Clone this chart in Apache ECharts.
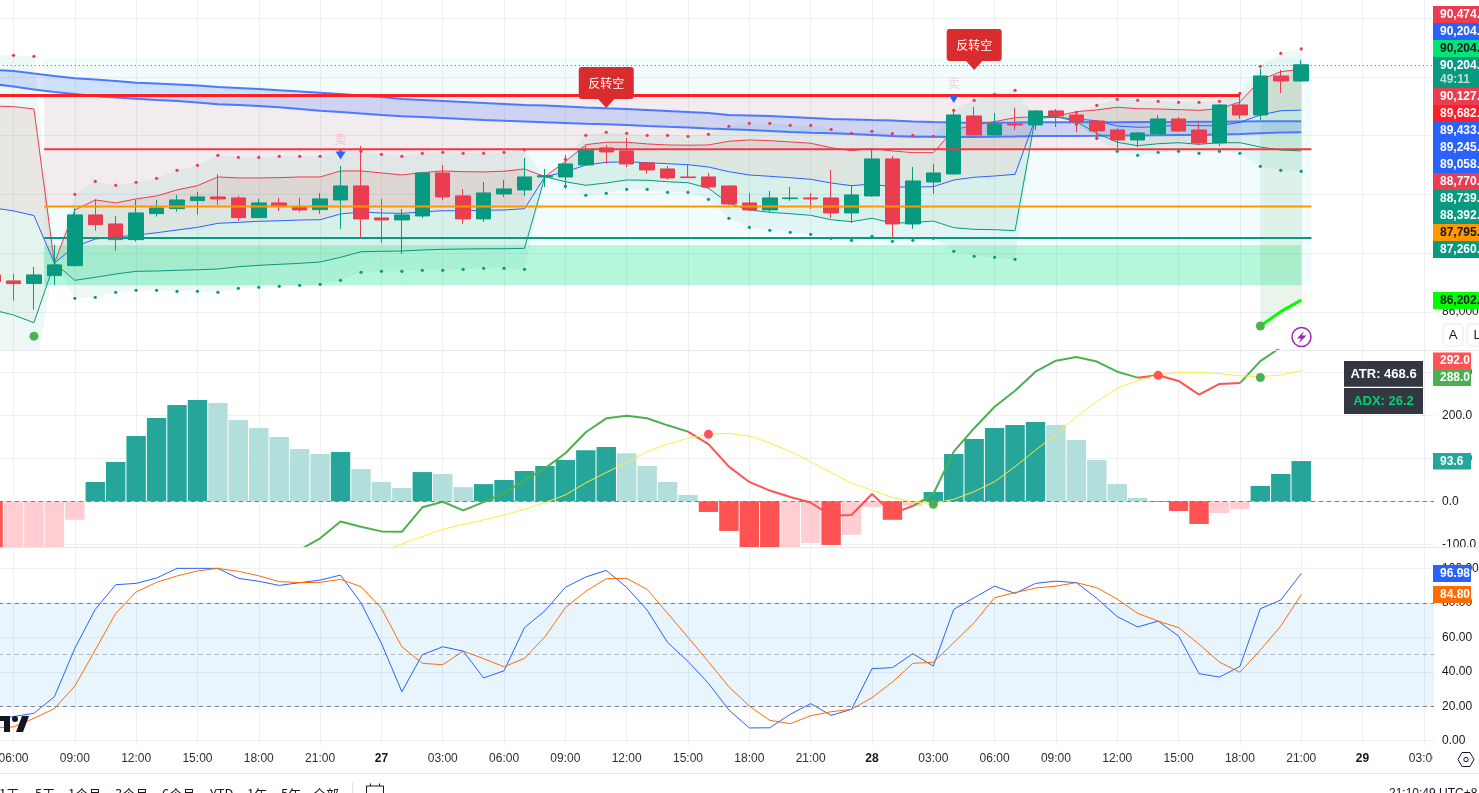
<!DOCTYPE html>
<html><head><meta charset="utf-8">
<style>html,body{margin:0;padding:0;background:#fff;overflow:hidden}#c{width:1479px;height:793px}</style>
<script src="https://cdn.jsdelivr.net/npm/echarts@6/dist/echarts.min.js"></script>
</head><body><div id="c"></div>
<script>
// ---------- categories (hourly) ----------
const categories = ['05:00','06:00','07:00','08:00','09:00','10:00','11:00','12:00','13:00','14:00','15:00','16:00','17:00','18:00','19:00','20:00','21:00','22:00','23:00',
 '27','01:00','02:00','03:00','04:00','05:00','06:00','07:00','08:00','09:00','10:00','11:00','12:00','13:00','14:00','15:00','16:00','17:00','18:00','19:00','20:00','21:00','22:00','23:00',
 '28','01:00','02:00','03:00','04:00','05:00','06:00','07:00','08:00','09:00','10:00','11:00','12:00','13:00','14:00','15:00','16:00','17:00','18:00','19:00','20:00','21:00','22:00','23:00',
 '29','01:00','02:00','03:00'];
const dayLabels = ['27','28','29'];
// ---------- candles [open, close, low, high] ----------
const candles = [[86631,86517,86206,86750],[86529,86483,86194,86648],[86483,86631,86041,86767],[86619,86801,86461,87141],[86789,87651,86772,87765],[87651,87486,87384,87918],[87498,87231,87044,87634],[87231,87685,87197,87906],[87673,87770,87622,87906],[87758,87906,87707,87991],[87894,87957,87656,88042],[87957,87923,87821,88343],[87940,87605,87549,87974],[87605,87855,87605,87923],[87855,87809,87719,87940],[87792,87736,87702,87940],[87741,87923,87668,88025],[87906,88144,87413,88484],[88144,87583,87277,88824],[87600,87566,87175,87923],[87566,87651,86988,87753],[87634,88365,87600,88382],[88365,87957,87906,88501],[87974,87583,87498,88093],[87583,88025,87532,88212],[88008,88093,87957,88246],[88076,88297,87974,88620],[88297,88319,88127,88433],[88297,88518,88093,88671],[88501,88756,88501,88824],[88790,88722,88518,88841],[88739,88518,88467,88960],[88535,88416,88348,88552],[88433,88280,88246,88484],[88297,88285,88280,88518],[88297,88127,88093,88365],[88144,87838,87821,88144],[87855,87736,87719,88025],[87736,87940,87702,88059],[87928,87940,87889,88127],[87940,87923,87753,88025],[87940,87685,87600,88416],[87685,87991,87515,88161],[87974,88603,87957,88756],[88603,87498,87277,88654],[87498,88229,87413,88467],[88212,88365,88008,88518],[88348,89351,88331,89453],[89334,89011,88960,89487],[89011,89198,88994,89385],[89198,89181,89096,89470],[89181,89419,89096,89436],[89419,89334,89147,89453],[89351,89232,89062,89419],[89249,89079,88926,89266],[89096,88926,88790,89130],[88926,89045,88807,89062],[89028,89283,89028,89351],[89283,89079,89062,89317],[89096,88875,88841,89215],[88875,89521,88824,89538],[89521,89351,89283,89742],[89351,90014,89266,90133],[90014,89929,89725,90116],[89929,90204,89912,90286]];
// ---------- channel lines ----------
const upLine = [89504,89492,89453,86835,87736,87906,87855,87923,87974,88076,88149,88297,88280,88280,88285,88297,88297,88399,88399,88365,88331,88370,88399,88387,88382,88394,88433,88302,88557,88846,88887,88887,88858,88841,88836,88841,88904,88926,88914,88892,88870,88795,88744,88778,88739,88710,88710,89096,89181,89237,89305,89322,89329,89407,89436,89482,89458,89453,89441,89430,89458,89572,89946,90087,90127];
const midLine = [87771,87720,87640,86835,87110,87241,87275,87309,87348,87394,87440,87508,87525,87542,87552,87564,87570,87667,87701,87683,87678,87701,87723,87723,87730,87735,87757,88301,88381,88500,88546,88556,88539,88522,88505,88466,88386,88330,88308,88284,88257,88194,88148,88177,88126,88126,88131,88245,88291,88313,88342,89294,89311,89282,89253,89163,89141,89151,89180,89168,89168,89226,89350,89423,89433];
const loLine = [86034,85949,85818,86835,86539,86590,86646,86692,86697,86709,86719,86731,86770,86794,86811,86828,86850,86930,87025,87032,87037,87054,87066,87071,87076,87076,87083,88301,88216,88155,88194,88245,88240,88216,88199,88104,87848,87735,87695,87672,87644,87570,87536,87594,87513,87519,87547,87434,87406,87400,87383,89321,89328,89236,89039,88886,88828,88862,88879,88852,88879,88879,88806,88755,88739];
const upDots = [90379,90366,90349,null,88002,88223,88155,88206,88274,88410,88495,88665,88631,88631,88648,88648,88648,88750,88733,88682,88648,88699,88716,88699,88699,88716,88760,null,88597,89005,89056,89039,89005,89005,88988,89022,89158,89209,89209,89175,89175,89107,89039,89073,89032,89005,88988,89430,89600,89702,89770,null,null,89396,89515,89617,89600,89583,89566,89566,89583,89719,90178,90400,90474];
const loDots = [85098,84979,84860,null,86233,86250,86335,86369,86369,86352,86352,86335,86403,86420,86437,86454,86471,86539,86675,86692,86692,86709,86709,86726,86743,86743,86726,null,88138,87984,88018,88086,88086,88035,88035,87917,87593,87440,87389,87355,87321,87253,87219,87287,87202,87219,87253,87032,86947,86930,86896,null,null,89192,88954,88733,88665,88716,88733,88699,88733,88699,88478,88410,88392];
const ribbonHi = [90116,90099,90056,90014,89974,89954,89928,89900,89886,89869,89852,89826,89809,89792,89770,89750,89729,89707,89682,89656,89622,89605,89588,89571,89554,89537,89520,89512,89495,89478,89464,89452,89435,89418,89401,89384,89350,89342,89333,89316,89299,89282,89274,89265,89257,89240,89231,89223,89219,89219,89221,89226,89226,89228,89228,89229,89231,89231,89233,89235,89236,89240,89242,89244,89245];
const ribbonLo = [89877,89835,89784,89741,89707,89673,89648,89627,89605,89588,89563,89532,89520,89503,89481,89452,89423,89401,89376,89350,89328,89316,89299,89282,89265,89253,89240,89226,89214,89202,89192,89180,89163,89150,89138,89121,89107,89095,89078,89061,89049,89039,89027,89010,88993,88981,88979,88976,88976,88979,88985,88993,88993,88993,88996,89000,89002,89005,89010,89010,89017,89027,89041,89052,89058];
// ---------- lime trend, last bars ----------
const trendIdx = [62,63,64];
const trendVal = [85762,86007,86202];
const closeTail = [90014,89929,90204];
// ---------- price levels & zones ----------
const levelPrices = [89682,88770,87795,87260];
const lastPrice = 90204;
const zoneRows = [
 {from:2,to:64,hi:90314,lo:86460},   // cyan
 {from:2,to:61,hi:89682,lo:88770},   // pink
 {from:2,to:26,hi:88770,lo:87795},   // pink (lower, left part)
 {from:2,to:64,hi:87137,lo:86456}    // green
];
// ---------- markers ----------
const reversalIdx = [30,48];
const reversalPrice = [89470,90116];
const reversalText = '反转空';
const sellIdx = [17,47];
const sellPrice = [88661,89622];
const bigDot = [[2,85589],[62,85762]];
// ---------- MACD ----------
const macdHist = [-150,-140,-130,-110,-43,45,91.5,152,194,224,235.7,228.7,189,170.5,149.6,121.7,110,114.7,75,45,31,68,63.6,33,40,49.6,70.5,82,96,119,126,112,82,45,14.7,-24.8,-69,-107,-120,-110,-97,-101.5,-78,-13,-43,-11,21.7,110,145,170.5,177.5,184.5,177.5,142.6,96,40,7.8,-1.5,-22.5,-52.7,-27,-17.8,35.7,63.6,93.6];
const macdLine = [null,null,null,null,null,null,null,null,null,null,null,null,null,-170,-140,-113,-86,-47,-59,-70,-71,-14,-1,-21,-2,18.6,49.6,76.7,111.6,160.5,193,199,193,176.7,162,133,80.6,45,25,10,-3,-33,-32,17,-28,-11,17,115.5,170,220,257,301.5,327,335.6,325,301.5,287.6,293,280,248,273,275,326,358,385];
const macdSignal = [null,null,null,null,null,null,null,null,null,null,null,null,null,null,null,null,null,null,-140,-118,-99,-82,-65,-54,-43,-32,-18.6,-3,14.7,43,67,90,115.5,133,146.5,156,158,152,136,116,92,67,42,26,9,-1.5,-4.6,4.6,22.5,45.7,80.6,119,156,197,232,263,280.6,293.8,300,300,297,292,290,293.8,304];
const macdRedSpans = [[34,45],[56,61]];
const macdDotsRed = [[35,155.8],[57,293]];
const macdDotsGreen = [[46,-7],[62,288]];
// ---------- Stochastic ----------
const stochK = [12,14,15.9,25.5,53.6,76.2,90.5,91.3,94.4,100,100,100,94.2,92.5,90.1,91.7,93.2,96.1,80,56.5,28.4,49.9,54.5,52,36.4,40.6,65.6,75.4,89,95,98.8,89,75.8,57,46,33.3,17.8,7.4,7.5,15.3,21.5,14.7,18.2,41.8,42.4,50.5,43.3,76.2,83,89.7,85.5,91.3,92.6,91.7,82.6,72,66,69.4,60.7,38.9,36.9,43.1,76.6,81.6,96.98];
const stochD = [7.5,8,13,18.6,31.7,52.6,73.9,86.3,91.9,95.6,98.5,100,98.3,95.7,92.3,91.7,91.9,93.6,89.4,76.8,54.5,44.9,44.1,52,47.6,42.9,47.8,60.3,77.2,86.7,94,94.2,87.8,73.9,60,45.8,31.3,20.1,11.8,9.9,14.5,16.8,18.2,25,34,44.9,45.5,56.9,68.5,83,85.9,88.6,89.7,91.7,88.8,82.2,73.9,69.4,65.6,56,45.6,39.7,52.6,66.5,84.8];
// ---------- axis ticks ----------
const priceTicks = [86000,87000,88000,89000,90000,91000];
const macdTicks = [-100,0,100,200,300];
const stochTicks = [0,20,40,60,80,100];
const stochLevels = [20,50,80];
// ---------- tag stack ----------
const priceTags = [['90,474.00','#ea3d50','#fff'],['90,204.00','#2962ff','#fff'],['90,204.00','#00e676','#131722'],['90,204.00','#089981','#fff'],['90,127.00','#ea3d50','#fff'],['89,682.00','#ff1e26','#fff'],['89,433.00','#2962ff','#fff'],['89,245.00','#2962ff','#fff'],['89,058.00','#2962ff','#fff'],['88,770.00','#ea3d50','#fff'],['88,739.00','#089981','#fff'],['88,392.00','#089981','#fff'],['87,795.00','#ff9800','#131722'],['87,260.00','#089981','#fff']];
const rangeButtons = [['1天',-1],['5天',35],['1个月',68],['3个月',115],['6个月',162],['YTD',210],['1年',247],['5年',281],['全部',313]];

const FONT = '"Liberation Sans",Arial,sans-serif';
const CJK = '"Noto Sans CJK SC","Liberation Sans",sans-serif';
const TAG = 'bold 12px '+FONT;
const GRID = '#eef0f3', UP = '#089981', DOWN = '#ea3d50';
const every3 = (i) => (i - 1) % 3 === 0;
const lastIdx = candles.length - 1;

function indexes(a){return a.map((v,i)=>[i,v]);}

function bandSeries(hi, lo, color, from, to, z){
  return {type:'custom',xAxisIndex:0,yAxisIndex:0,z,clip:true,silent:true,data:[[from,hi[from]]],
    renderItem(p,api){
      const pts=[];
      for(let i=from;i<=to;i++)pts.push(api.coord([i,hi[i]]));
      for(let i=to;i>=from;i--)pts.push(api.coord([i,lo[i]]));
      return {type:'polygon',shape:{points:pts},style:{fill:color}};
    }};
}
function zoneSeries(zones,colors,offsets,z){
  return {type:'custom',xAxisIndex:0,yAxisIndex:0,z,clip:true,silent:true,data:zones.map(r=>[r.from,r.hi]),
    renderItem(p,api){
      const r=zones[p.dataIndex],b=api.size([1,0])[0];
      const a=api.coord([r.from,r.hi]),c=api.coord([r.to,r.lo]);
      const o=offsets[p.dataIndex];
      const x0=a[0]+b/2,x1=c[0]+o*b;
      return {type:'rect',shape:{x:x0,y:a[1],width:x1-x0,height:c[1]-a[1]},style:{fill:colors[p.dataIndex]}};
    }};
}
function levelSeries(price,from,fromOff,to,toOff,color,width,z){
  return {type:'custom',xAxisIndex:0,yAxisIndex:0,z,clip:true,silent:true,data:[[from,price]],
    renderItem(p,api){
      const b=api.size([1,0])[0];
      const a=api.coord([from,price]),c=api.coord([to,price]);
      return {type:'rect',shape:{x:a[0]+fromOff*b,y:a[1]-width/2,width:c[0]+toOff*b-a[0]-fromOff*b,height:width},style:{fill:color}};
    }};
}
function lineS(vals,color,width,xi,yi,z){
  return {type:'line',xAxisIndex:xi,yAxisIndex:yi,data:vals,showSymbol:false,symbol:'none',z,silent:true,connectNulls:false,
    lineStyle:{color,width},itemStyle:{color}};
}
function dotS(vals,color,size,xi,yi,z){
  return {type:'scatter',xAxisIndex:xi,yAxisIndex:yi,data:vals,symbolSize:size,z,silent:true,itemStyle:{color,opacity:1}};
}
const inRed = i => macdRedSpans.some(([a,b])=>i>=a&&i<=b);
const macdRed = macdLine.map((v,i)=>inRed(i)?v:null);
const macdGreen = macdLine.map((v,i)=>{
  const edge = macdRedSpans.some(([a,b])=>i===a||i===b);
  return (!inRed(i)||edge)?v:null;
});
const upFill = upDots.map((v,i)=>v==null?upLine[i]:v);
const loFill = loDots.map((v,i)=>v==null?loLine[i]:v);
const trendHi = new Array(65).fill(null), trendLo = new Array(65).fill(null);
trendIdx.forEach((ix,k)=>{trendHi[ix]=closeTail[k];trendLo[ix]=trendVal[k];});

const series = [
  zoneSeries(zoneRows,['rgba(0,188,212,0.05)','rgba(242,54,69,0.08)','rgba(242,54,69,0.08)','rgba(0,230,118,0.25)'],[0.5,0,0,0],2),
  bandSeries(upFill,loFill,'rgba(8,153,129,0.07)',0,lastIdx,3),
  bandSeries(upLine,midLine,'rgba(190,90,60,0.10)',0,lastIdx,3),
  bandSeries(midLine,loLine,'rgba(76,175,80,0.06)',0,lastIdx,3),
  bandSeries(trendHi,trendLo,'rgba(76,175,80,0.12)',62,64,3),
  bandSeries(ribbonHi,ribbonLo,'rgba(41,98,255,0.18)',0,lastIdx,3),
  lineS(ribbonHi,'#4c79ff',2,0,0,4),
  lineS(ribbonLo,'#4c79ff',2,0,0,4),
  lineS(upLine,'#ea3d50',1,0,0,4),
  lineS(midLine,'#2962ff',1,0,0,4),
  lineS(loLine,UP,1,0,0,4),
  dotS(indexes(upDots).filter(d=>d[1]!=null),DOWN,3.2,0,0,4),
  dotS(indexes(loDots).filter(d=>d[1]!=null),UP,3.2,0,0,4),
  {type:'candlestick',xAxisIndex:0,yAxisIndex:0,data:candles,barWidth:15,z:5,silent:true,
   itemStyle:{color:UP,color0:DOWN,borderColor:UP,borderColor0:DOWN,borderWidth:1},
   markLine:{silent:true,symbol:'none',label:{show:false},animation:false,data:[{yAxis:lastPrice}],lineStyle:{color:UP,type:[1,3],width:1.2}}},
  levelSeries(levelPrices[0],0,0,61,0,'#ff1e26',3,6),
  levelSeries(levelPrices[1],2,0.5,64,0.5,'#f23645',2,6),
  levelSeries(levelPrices[2],2,0.5,64,0.5,'#ff9800',2,6),
  levelSeries(levelPrices[3],2,0.5,64,0.5,UP,2,6),
  lineS(trendIdx.reduce((a,ix,k)=>{a[ix]=trendVal[k];return a;},new Array(65).fill(null)),'#00ff00',3,0,0,6),
  dotS(bigDot,'#4caf50',9,0,0,7),
  {type:'scatter',xAxisIndex:0,yAxisIndex:0,z:7,silent:true,symbol:'triangle',symbolRotate:180,symbolSize:[10,8],
   data:sellIdx.map((ix,k)=>[ix,sellPrice[k]]),itemStyle:{color:'#2962ff',opacity:1},
   label:{show:true,position:'top',distance:6,formatter:'卖',color:'rgba(242,54,69,0.22)',fontSize:12,fontFamily:CJK}},
  {type:'custom',xAxisIndex:0,yAxisIndex:0,z:8,silent:true,data:reversalIdx.map((ix,k)=>[ix,reversalPrice[k]]),
   renderItem(p,api){
     const c=api.coord([api.value(0),api.value(1)]);
     const w=55,h=32,tip=9,top=c[1]-tip-h,left=c[0]-w/2;
     return {type:'group',children:[
       {type:'rect',shape:{x:left,y:top,width:w,height:h,r:3},style:{fill:'#d92c2c'}},
       {type:'polygon',shape:{points:[[c[0]-9,top+h-1],[c[0]+9,top+h-1],[c[0],c[1]]]},style:{fill:'#d92c2c'}},
       {type:'text',style:{text:reversalText,x:c[0],y:top+h/2,fill:'#fff',font:'12px '+CJK,align:'center',verticalAlign:'middle'}}
     ]};
   }},
  // MACD pane
  {type:'bar',xAxisIndex:1,yAxisIndex:1,data:macdHist,barWidth:'95%',z:2,silent:true,
   itemStyle:{color:(p)=>{
     const i=p.dataIndex,v=macdHist[i],pv=i?macdHist[i-1]:(v+1);
     return v>=0?(v>pv?'#26a69a':'#b2dfdb'):(v<pv?'#ff5252':'#ffcdd2');
   }},
   markLine:{silent:true,symbol:'none',label:{show:false},animation:false,data:[{yAxis:0}],lineStyle:{color:'#787b86',type:[4,4],width:1}}},
  lineS(macdGreen,'#4caf50',2,1,1,3),
  lineS(macdRed,'#ff5252',2,1,1,3),
  lineS(macdSignal,'#ffeb3b',1,1,1,3),
  dotS(macdDotsRed,'#ff5252',9,1,1,4),
  dotS(macdDotsGreen,'#4caf50',9,1,1,4),
  // Stochastic pane
  {type:'line',xAxisIndex:2,yAxisIndex:2,data:stochK,showSymbol:false,symbol:'none',z:3,silent:true,lineStyle:{color:'#2962ff',width:1},
   markArea:{silent:true,animation:false,data:[[{yAxis:stochLevels[0]},{yAxis:stochLevels[2]}]],itemStyle:{color:'rgba(33,150,243,0.1)'}},
   markLine:{silent:true,symbol:'none',label:{show:false},animation:false,
     data:[{yAxis:stochLevels[0],lineStyle:{color:'#787b86'}},{yAxis:stochLevels[1],lineStyle:{color:'rgba(120,123,134,0.55)'}},{yAxis:stochLevels[2],lineStyle:{color:'#787b86'}}],
     lineStyle:{type:[4,4],width:1}}},
  {type:'line',xAxisIndex:2,yAxisIndex:2,data:stochD,showSymbol:false,symbol:'none',z:3,silent:true,lineStyle:{color:'#ff6d00',width:1}}
];

function xAx(gi,show){
  return {type:'category',gridIndex:gi,data:categories,boundaryGap:true,
    axisLine:{show:false},axisTick:{show:false},
    splitLine:{show:true,interval:every3,alignWithLabel:true,lineStyle:{color:GRID,width:1}},
    axisLabel:show?{show:true,interval:every3,margin:8,fontSize:12,fontFamily:FONT,color:'#2a2e39',
      formatter:(v)=>dayLabels.includes(v)?'{d|'+v+'}':v,
      rich:{d:{fontWeight:'bold',fontSize:12,fontFamily:FONT,color:'#131722'}}}:{show:false}};
}
function yAx(gi,min,max,ticks,fmt){
  return {type:'value',gridIndex:gi,position:'right',min,max,
    axisLine:{show:false},
    axisTick:{show:false,customValues:ticks},
    splitLine:{show:true,lineStyle:{color:GRID,width:1}},
    axisLabel:{show:true,customValues:ticks,margin:8,fontSize:12,fontFamily:FONT,color:'#131722',formatter:fmt}};
}

// ---- chrome ----
const graphics=[];
const rect=(x,y,w,h,fill,extra)=>graphics.push(Object.assign({type:'rect',z:100,silent:true,shape:{x,y,width:w,height:h},style:{fill}},extra||{}));
const text=(t,x,y,fill,font,align)=>graphics.push({type:'text',z:101,silent:true,style:{text:t,x,y,fill,font,align:align||'left',verticalAlign:'middle'}});
// pane separators and covers
rect(0,350,1479,1,'#e6e8ee');
rect(1433,547.5,46,6,'#fff');
rect(0,547,1479,1,'#e6e8ee');
rect(1433,745,46,28,'#fff');
rect(0,773,1479,1,'#e6e8ee');
// price tags
let ty=6;
priceTags.forEach((t,i)=>{
  const h=(i===3)?31:17;
  rect(1433,ty,46,h,t[1]);
  text(t[0],1440,ty+8.7,t[2],TAG);
  if(i===3)text('49:11',1440,ty+22.5,'rgba(255,255,255,0.7)',TAG);
  ty+=h;
});
rect(1433,292,46,17,'#00ff00');
text('86,202.00',1440,300.7,'#131722',TAG);
// macd tags
rect(1433,352.5,38,16.5,'#ff5252');text('292.0',1440,361,'#fff',TAG);
rect(1433,369,38,17,'#4caf50');text('288.0',1440,377.7,'#fff',TAG);
rect(1433,453,38,16.5,'#26a69a');text('93.6',1440,461.5,'#fff',TAG);
// stoch tags
rect(1433,565,38,17,'#2962ff');text('96.98',1440,573.7,'#fff',TAG);
rect(1433,586,38,17,'#ff6d00');text('84.80',1440,594.7,'#fff',TAG);
// ATR / ADX
rect(1344,361,79,25.7,'#333742');text('ATR: 468.6',1383.5,374,'#fff','bold 13px '+FONT,'center');
rect(1344,388,79,26,'#333742');text('ADX: 26.2',1383.5,401,'#00d26a','bold 13px '+FONT,'center');
// A / L buttons
rect(1443,324,20,22,'#fff',{shape:{x:1443,y:324,width:20,height:22,r:4},style:{fill:'#fff',stroke:'#e6e8ee',lineWidth:1}});
text('A',1453,335,'#131722','13px '+FONT,'center');
rect(1467,324,20,22,'#fff',{shape:{x:1467,y:324,width:20,height:22,r:4},style:{fill:'#fff',stroke:'#e6e8ee',lineWidth:1}});
text('L',1477,335,'#131722','13px '+FONT,'center');
// lightning icon
graphics.push({type:'circle',z:100,silent:true,shape:{cx:1301.5,cy:337,r:9.5},style:{fill:'#fff',stroke:'#9c27b0',lineWidth:1.5}});
graphics.push({type:'polygon',z:101,silent:true,shape:{points:[[1304,331],[1297,338.5],[1301,338.5],[1299,343],[1306.5,335.5],[1302,335.5]]},style:{fill:'#9c27b0'}});
// TradingView logo fragment
graphics.push({type:'polygon',z:101,silent:true,shape:{points:[[0,716],[10,716],[10,732],[4,732],[4,721],[0,721]]},style:{fill:'#131722'}});
graphics.push({type:'circle',z:101,silent:true,shape:{cx:15,cy:719,r:3},style:{fill:'#131722'}});
graphics.push({type:'polygon',z:101,silent:true,shape:{points:[[22,716],[29,716],[23,732],[16,732]]},style:{fill:'#131722'}});
// bottom toolbar
rangeButtons.forEach(b=>text(b[0],b[1],794.5,'#131722','13px '+CJK));
rect(352,782,1,11,'#e0e3eb');
graphics.push({type:'rect',z:101,silent:true,shape:{x:366.5,y:786,width:17,height:12},style:{fill:'#fff',stroke:'#131722',lineWidth:1}});
rect(370,783.5,1,4,'#131722');rect(379,783.5,1,4,'#131722');rect(366.5,790,17,1,'#131722');
text('21:10:49 UTC+8',1389,794,'#131722','12px '+FONT);
// settings hexagon
graphics.push({type:'polygon',z:101,silent:true,shape:{points:[[1458,759.5],[1462,752.5],[1470,752.5],[1474,759.5],[1470,766.5],[1462,766.5]]},style:{fill:'#fff',stroke:'#131722',lineWidth:1}});
graphics.push({type:'circle',z:102,silent:true,shape:{cx:1466,cy:759.5,r:2.2},style:{fill:'#fff',stroke:'#131722',lineWidth:1}});

const chart=echarts.init(document.getElementById('c'),null,{renderer:'canvas',width:1479,height:793});
const GL=-17.16,GW=71*20.44;
chart.setOption({
  animation:false,backgroundColor:'#fff',tooltip:{show:false},legend:{show:false},
  grid:[
    {left:GL,top:0,width:GW,height:350,outerBoundsMode:'none'},
    {left:GL,top:350,width:GW,height:197,outerBoundsMode:'none'},
    {left:GL,top:547,width:GW,height:198,outerBoundsMode:'none'}
  ],
  xAxis:[xAx(0,false),xAx(1,false),xAx(2,true)],
  yAxis:[
    yAx(0,85354,91306,priceTicks,v=>v.toLocaleString('en-US',{minimumFractionDigits:2})),
    yAx(1,-106.3,351.9,macdTicks,v=>v.toFixed(1)),
    yAx(2,-2.5,112.4,stochTicks,v=>v.toFixed(2))
  ],
  series,graphic:graphics
});
</script></body></html>
